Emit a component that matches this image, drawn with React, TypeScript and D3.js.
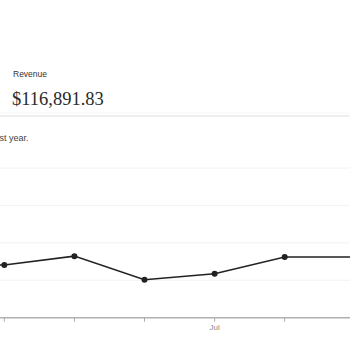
import React from "react";
import * as d3 from "d3";

const months = ["Mar", "Apr", "May", "Jun", "Jul", "Aug", "Sep"];
const revenue = [14300, 14050, 16450, 10130, 11730, 16190, 16190];
const tickLabels = ["", "", "", "", "Jul", "", ""];
const yTicks = [10000, 20000, 30000, 40000];

const W = 350;
const H = 350;

export default function App() {
  const x = d3.scaleLinear().domain([1, 5]).range([4.3, 284.7]);
  const y = d3.scaleLinear().domain([0, 40000]).range([317.7, 168]);
  const line = d3
    .line<number>()
    .x((_, i) => x(i))
    .y((d) => y(d));
  const pts = revenue.map((v, i) => ({ v, i }));
  return (
    <svg
      width={W}
      height={H}
      style={{ position: "absolute", left: 0, top: 0, background: "#fff" }}
    >
      <text
        x={13}
        y={77}
        fontFamily="Liberation Sans, Arial, sans-serif"
        fontSize={8.5}
        fontWeight={500}
        fill="#333"
      >
        Revenue
      </text>
      <text
        x={12}
        y={105}
        fontFamily="Liberation Serif, Times New Roman, serif"
        fontSize={18.5}
        fill="#2a2a2a"
      >
        $116,891.83
      </text>
      <line x1={0} x2={350} y1={113} y2={113} stroke="#f6f6f6" />
      <line x1={0} x2={349} y1={116} y2={116} stroke="#ddd" />
      <text
        x={-0.5}
        y={141}
        fontFamily="Liberation Sans, Arial, sans-serif"
        fontSize={9}
        fill="#444"
      >
        st year.
      </text>
      {yTicks.map((t) => (
        <line key={t} x1={0} x2={W} y1={y(t)} y2={y(t)} stroke="#f2f2f2" />
      ))}
      <line x1={0} x2={W} y1={y(0)} y2={y(0)} stroke="#b0b0b0" strokeWidth={1.5} />
      {months.map((m, i) => (
        <g key={m} transform={`translate(${x(i)},${y(0)})`}>
          <line y1={0} y2={4} stroke="#aaa" />
          <text
            y={12}
            textAnchor="middle"
            fontFamily="Liberation Sans, Arial, sans-serif"
            fontSize={8}
            fill="#888"
          >
            {tickLabels[i]}
          </text>
        </g>
      ))}
      <path d={line(revenue) || ""} fill="none" stroke="#222" strokeWidth={1.5} />
      {pts.map((p) => (
        <circle key={p.i} cx={x(p.i)} cy={y(p.v)} r={3} fill="#222" />
      ))}
    </svg>
  );
}
